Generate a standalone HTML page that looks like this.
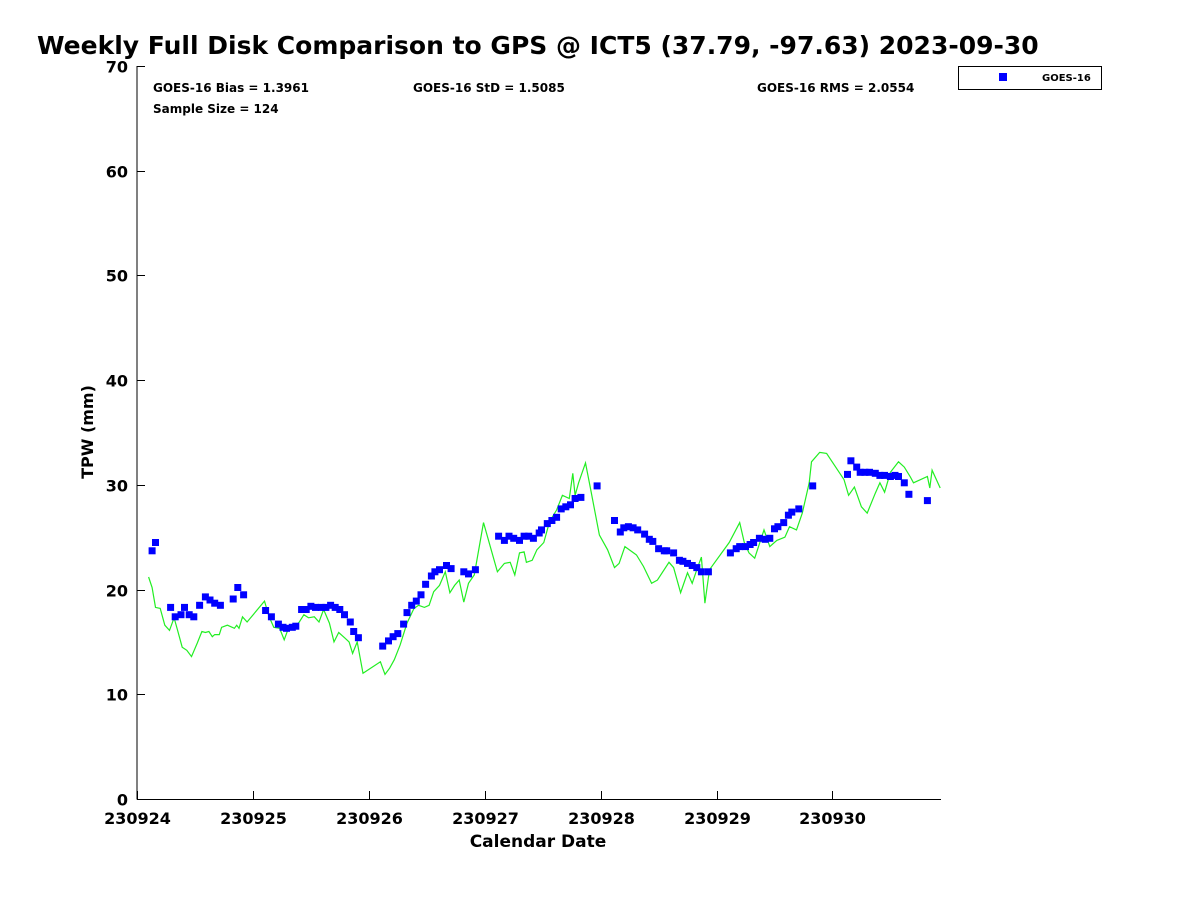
<!DOCTYPE html>
<html><head><meta charset="utf-8"><style>
body{margin:0;background:#fff;font-family:"Liberation Sans",sans-serif}
svg text{font-family:"DejaVu Sans","Liberation Sans",sans-serif;font-weight:bold}
</style></head><body>
<svg id="chart" width="1200" height="900" viewBox="0 0 1200 900">
<text x="37" y="54" font-size="25" fill="#000">Weekly Full Disk Comparison to GPS @ ICT5 (37.79, -97.63) 2023-09-30</text>
<g id="axes"></g>
<g id="series"></g>
<text x="153" y="92" font-size="12">GOES-16 Bias = 1.3961</text>
<text x="153" y="113" font-size="12">Sample Size = 124</text>
<text x="413" y="92" font-size="12">GOES-16 StD = 1.5085</text>
<text x="757" y="92" font-size="12">GOES-16 RMS = 2.0554</text>
<g>
<rect x="958.5" y="66.5" width="143" height="23" fill="#fff" stroke="#000" stroke-width="1"/>
<rect x="999" y="73" width="8" height="8" fill="#0000ff"/>
<text x="1042" y="81" font-size="10">GOES-16</text>
</g>
<text x="538" y="847" font-size="17" text-anchor="middle">Calendar Date</text>
<text transform="translate(93,432) rotate(-90)" font-size="16" text-anchor="middle">TPW (mm)</text>
</svg>
<script>
const xTickLabels=["230924","230925","230926","230927","230928","230929","230930"];
const yTicks=[0,10,20,30,40,50,60,70];
const goesDays=[0.13,0.16,0.29,0.33,0.38,0.41,0.45,0.49,0.54,0.59,0.63,0.67,0.72,0.83,0.87,0.92,1.11,1.16,1.22,1.26,1.29,1.34,1.37,1.42,1.46,1.50,1.54,1.59,1.63,1.67,1.71,1.75,1.79,1.84,1.87,1.91,2.12,2.17,2.21,2.25,2.30,2.33,2.37,2.41,2.45,2.49,2.54,2.57,2.61,2.67,2.71,2.82,2.86,2.92,3.12,3.17,3.21,3.25,3.30,3.34,3.38,3.42,3.47,3.49,3.54,3.58,3.62,3.66,3.70,3.74,3.78,3.83,3.97,4.12,4.17,4.20,4.24,4.28,4.32,4.38,4.42,4.45,4.50,4.55,4.57,4.63,4.68,4.71,4.75,4.79,4.83,4.87,4.93,5.12,5.17,5.20,5.25,5.29,5.32,5.37,5.42,5.46,5.50,5.53,5.58,5.62,5.65,5.71,5.83,6.13,6.16,6.21,6.24,6.28,6.32,6.37,6.41,6.45,6.50,6.54,6.57,6.62,6.66,6.82];
const goesTpw=[23.7,24.5,18.3,17.4,17.6,18.3,17.6,17.4,18.5,19.3,19.0,18.7,18.5,19.1,20.2,19.5,18.0,17.4,16.7,16.4,16.3,16.4,16.5,18.1,18.1,18.4,18.3,18.3,18.3,18.5,18.3,18.1,17.6,16.9,16.0,15.4,14.6,15.1,15.5,15.8,16.7,17.8,18.5,18.9,19.5,20.5,21.3,21.7,21.9,22.3,22.0,21.7,21.5,21.9,25.1,24.7,25.1,24.9,24.7,25.1,25.1,24.9,25.4,25.7,26.3,26.6,26.9,27.7,27.9,28.1,28.7,28.8,29.9,26.6,25.5,25.9,26.0,25.9,25.7,25.3,24.8,24.6,23.9,23.7,23.7,23.5,22.8,22.7,22.5,22.3,22.1,21.7,21.7,23.5,23.9,24.1,24.1,24.3,24.5,24.9,24.8,24.9,25.8,26.0,26.4,27.1,27.4,27.7,29.9,31.0,32.3,31.7,31.2,31.2,31.2,31.1,30.9,30.9,30.8,30.9,30.8,30.2,29.1,28.5];
const gpsDays=[0.10,0.13,0.16,0.20,0.24,0.28,0.32,0.35,0.39,0.43,0.47,0.52,0.56,0.59,0.62,0.65,0.67,0.71,0.73,0.78,0.84,0.86,0.88,0.91,0.95,1.10,1.14,1.18,1.23,1.27,1.31,1.35,1.40,1.44,1.48,1.53,1.57,1.61,1.66,1.70,1.74,1.79,1.83,1.86,1.90,1.95,2.10,2.14,2.18,2.22,2.27,2.33,2.39,2.43,2.48,2.52,2.56,2.61,2.66,2.70,2.74,2.78,2.82,2.86,2.91,2.99,3.11,3.17,3.22,3.26,3.30,3.34,3.36,3.41,3.45,3.51,3.56,3.62,3.67,3.73,3.76,3.78,3.81,3.87,3.91,3.99,4.06,4.12,4.16,4.21,4.31,4.37,4.44,4.49,4.59,4.63,4.69,4.75,4.79,4.83,4.87,4.90,4.94,5.11,5.20,5.24,5.28,5.33,5.41,5.46,5.52,5.59,5.63,5.69,5.74,5.80,5.82,5.89,5.95,6.10,6.14,6.19,6.25,6.30,6.37,6.41,6.45,6.50,6.57,6.62,6.67,6.70,6.82,6.84,6.86,6.93];
const gpsTpw=[21.2,20.2,18.3,18.2,16.6,16.1,17.3,16.1,14.5,14.2,13.6,14.9,16.0,15.9,16.0,15.5,15.7,15.7,16.4,16.6,16.3,16.6,16.3,17.4,16.9,18.9,17.4,16.4,16.3,15.2,16.4,16.3,16.9,17.6,17.3,17.4,16.9,18.1,16.8,15.0,15.9,15.4,15.0,13.9,15.0,12.0,13.1,11.9,12.5,13.3,14.7,16.8,18.2,18.5,18.3,18.5,19.8,20.4,21.7,19.7,20.4,20.9,18.8,20.6,21.4,26.4,21.7,22.5,22.6,21.4,23.5,23.6,22.6,22.8,23.8,24.5,26.5,27.6,29.0,28.7,31.1,29.0,30.2,32.1,29.8,25.2,23.8,22.1,22.5,24.1,23.3,22.2,20.6,20.9,22.6,22.1,19.7,21.6,20.6,21.9,23.1,18.7,21.9,24.5,26.4,24.5,23.5,23.0,25.7,24.1,24.7,25.0,26.0,25.7,27.3,30.2,32.2,33.1,33.0,30.5,29.0,29.8,27.9,27.3,29.2,30.2,29.3,31.2,32.2,31.7,30.8,30.2,30.8,29.7,31.4,29.7];

const NS='http://www.w3.org/2000/svg';
const L=137,R=941,T=66,B=799,DAYPX=115.9;
const xs=d=>L+d*DAYPX;
const ys=v=>B-(v/70)*(B-T);
function mk(tag,attrs,parent){const e=document.createElementNS(NS,tag);for(const k in attrs)e.setAttribute(k,attrs[k]);parent.appendChild(e);return e;}
const axes=document.getElementById('axes'),series=document.getElementById('series');
let e=mk('line',{x1:L,y1:T,x2:L,y2:B+0.5,stroke:'#000','stroke-width':1},axes);


e=mk('line',{x1:L,y1:B+0.5,x2:R,y2:B+0.5,stroke:'#000','stroke-width':1},axes);


yTicks.forEach(v=>{
  const y=Math.round(ys(v))+0.5;
  const t=mk('line',{x1:L,y1:y,x2:L+8,y2:y,stroke:'#000'},axes);
  
  
  const tx=mk('text',{x:128,y:y+6,'font-size':16,'text-anchor':'end'},axes);
  tx.textContent=v;
  
  
});
xTickLabels.forEach((lab,i)=>{
  const x=Math.round(xs(i))+0.5;
  const t=mk('line',{x1:x,y1:B,x2:x,y2:B-8,stroke:'#000'},axes);
  
  
  const tx=mk('text',{x:x,y:824,'font-size':16,'text-anchor':'middle'},axes);
  tx.textContent=lab;
  
  
});
const pts=gpsDays.map((d,i)=>xs(d).toFixed(1)+','+ys(gpsTpw[i]).toFixed(1)).join(' ');
const line=mk('polyline',{points:pts,fill:'none',stroke:'#22ee22','stroke-width':1.2},series);


goesDays.forEach((d,i)=>{
  const r=mk('rect',{x:(xs(d)-3.5).toFixed(1),y:(ys(goesTpw[i])-3.5).toFixed(1),width:7,height:7,fill:'#0000ff'},series);
  
  
});
</script>
</body></html>
